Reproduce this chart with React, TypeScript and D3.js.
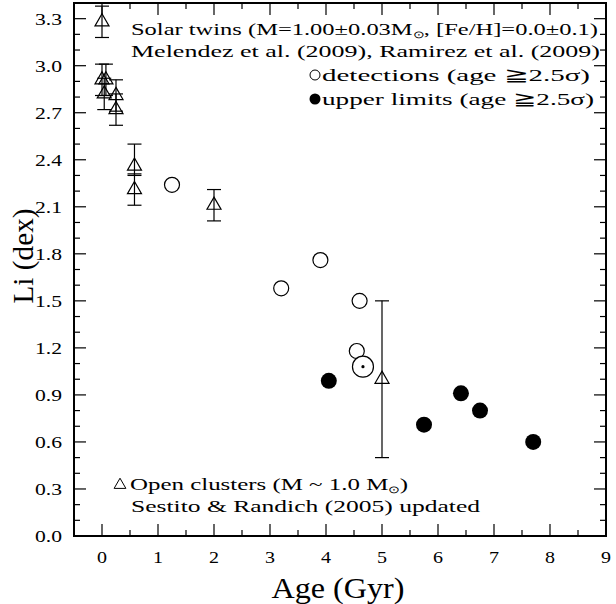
import React from "react";
import * as d3 from "d3";

// Open clusters: age (Gyr), Li, error-bar low, error-bar high
const clusterAge = [0.0, 0.0, 0.07, 0.04, 0.25, 0.25, 0.58, 0.58, 2.0, 5.0];
const clusterLi = [3.28, 2.91, 2.91, 2.82, 2.81, 2.72, 2.36, 2.21, 2.11, 1.0];
const clusterLo = [3.18, 2.81, 2.81, 2.72, 2.71, 2.62, 2.3, 2.11, 2.01, 0.5];
const clusterHi = [3.38, 3.01, 3.01, 2.92, 2.91, 2.82, 2.5, 2.31, 2.21, 1.5];

// Solar twins detections
const detAge = [1.25, 3.9, 3.2, 4.6, 4.55];
const detLi = [2.24, 1.76, 1.58, 1.5, 1.18];

// Solar twins upper limits
const ulAge = [4.05, 5.75, 6.41, 6.75, 7.7];
const ulLi = [0.99, 0.71, 0.91, 0.8, 0.6];

// The Sun
const sunAge = [4.66];
const sunLi = [1.08];

const xMajor = d3.range(0, 10);
const xMinor = d3.range(0.5, 9, 1);
const yMajorIdx = d3.range(0, 12);
const yMinorIdx = d3.range(1, 34).filter((i) => i % 3 !== 0);

const W = 616;
const H = 604;
const L = 74, R = 606, T = 3, B = 536;
const FONT = "'Liberation Serif', serif";

export default function App() {
  const x = d3.scaleLinear().domain([-0.5, 9]).range([L, R]);
  const y = d3.scaleLinear().domain([0, 3.4]).range([B, T]);
  const tri = d3.symbol().type(d3.symbolTriangle).size(85)();
  const triSmall = d3.symbol().type(d3.symbolTriangle).size(60)();
  const sw = 1.2;

  return (
    <svg width={W} height={H} style={{ position: "absolute", left: 0, top: 0, background: "#fff" }}>
      <rect x={0} y={0} width={W} height={H} fill="#fff" />
      {/* ticks */}
      <g stroke="#000" strokeWidth={1.2}>
        {xMajor.map((v) => (
          <g key={"xm" + v}>
            <line x1={x(v)} x2={x(v)} y1={B} y2={B - 12} />
            <line x1={x(v)} x2={x(v)} y1={T} y2={T + 12} />
          </g>
        ))}
        {xMinor.map((v) => (
          <g key={"xn" + v}>
            <line x1={x(v)} x2={x(v)} y1={B} y2={B - 6} />
            <line x1={x(v)} x2={x(v)} y1={T} y2={T + 6} />
          </g>
        ))}
        {yMajorIdx.map((i) => (
          <g key={"ym" + i}>
            <line x1={L} x2={L + 12} y1={y(i * 0.3)} y2={y(i * 0.3)} />
            <line x1={R} x2={R - 12} y1={y(i * 0.3)} y2={y(i * 0.3)} />
          </g>
        ))}
        {yMinorIdx.map((i) => (
          <g key={"yn" + i}>
            <line x1={L} x2={L + 6} y1={y(i * 0.1)} y2={y(i * 0.1)} />
            <line x1={R} x2={R - 6} y1={y(i * 0.1)} y2={y(i * 0.1)} />
          </g>
        ))}
      </g>
      {/* frame */}
      <rect x={L} y={T} width={R - L} height={B - T} fill="none" stroke="#000" strokeWidth={2} />
      {/* tick labels */}
      <g fontFamily={FONT} fontSize={17} fill="#000">
        {xMajor.map((v) => (
          <text key={"xl" + v} x={x(v)} y={563} textAnchor="middle" textLength={10} lengthAdjust="spacingAndGlyphs">{v}</text>
        ))}
        {yMajorIdx.map((i) => (
          <text key={"yl" + i} x={62} y={y(i * 0.3) + 6} textAnchor="end" textLength={27} lengthAdjust="spacingAndGlyphs">
            {(i * 0.3).toFixed(1)}
          </text>
        ))}
      </g>
      {/* axis titles */}
      <text x={338} y={598} textAnchor="middle" fontFamily={FONT} fontSize={29} textLength={133} lengthAdjust="spacingAndGlyphs">Age (Gyr)</text>
      <text transform="translate(33,256) rotate(-90)" textAnchor="middle" fontFamily={FONT} fontSize={29} textLength={95} lengthAdjust="spacingAndGlyphs">Li (dex)</text>

      {/* open clusters */}
      <g stroke="#000" strokeWidth={sw} fill="none">
        {clusterAge.map((a, i) => (
          <g key={"c" + i}>
            <line x1={x(a)} x2={x(a)} y1={y(clusterLo[i])} y2={y(clusterHi[i])} />
            <line x1={x(a) - 7} x2={x(a) + 7} y1={y(clusterLo[i])} y2={y(clusterLo[i])} />
            <line x1={x(a) - 7} x2={x(a) + 7} y1={y(clusterHi[i])} y2={y(clusterHi[i])} />
            <path d={tri} transform={`translate(${x(a)},${y(clusterLi[i])})`} fill="#fff" fillOpacity={0} />
          </g>
        ))}
      </g>
      {/* detections */}
      <g stroke="#000" strokeWidth={sw} fill="#fff">
        {detAge.map((a, i) => (
          <circle key={"d" + i} cx={x(a)} cy={y(detLi[i])} r={7.5} />
        ))}
      </g>
      {/* sun */}
      {sunAge.map((a, i) => (
        <g key={"s" + i}>
          <circle cx={x(a)} cy={y(sunLi[i])} r={10.5} fill="#fff" stroke="#000" strokeWidth={sw} />
          <circle cx={x(a)} cy={y(sunLi[i])} r={1.6} fill="#000" />
        </g>
      ))}
      {/* upper limits */}
      <g fill="#000">
        {ulAge.map((a, i) => (
          <circle key={"u" + i} cx={x(a)} cy={y(ulLi[i])} r={8} />
        ))}
      </g>

      {/* top legend */}
      <g fontFamily={FONT} fontSize={17.5} fill="#000">
        <text x={131} y={35} textLength={467} lengthAdjust="spacingAndGlyphs">
          Solar twins (M=1.00±0.03M<tspan fontSize={10} dy={3}>⊙</tspan><tspan dy={-3}>, [Fe/H]=0.0±0.1)</tspan>
        </text>
        <text x={131} y={56.5} textLength={469} lengthAdjust="spacingAndGlyphs">
          Melendez et al. (2009), Ramirez et al. (2009)
        </text>
        <circle cx={315} cy={75} r={5} fill="none" stroke="#000" strokeWidth={1} />
        <text x={322} y={81} textLength={268} lengthAdjust="spacingAndGlyphs">detections (age ≧2.5σ)</text>
        <circle cx={315} cy={99} r={5.5} fill="#000" />
        <text x={322} y={105} textLength={272} lengthAdjust="spacingAndGlyphs">upper limits (age ≧2.5σ)</text>
      </g>
      {/* bottom legend */}
      <g fontFamily={FONT} fontSize={17.5} fill="#000">
        <path d={triSmall} transform="translate(120,485)" fill="none" stroke="#000" strokeWidth={1} />
        <text x={130} y={490} textLength={278} lengthAdjust="spacingAndGlyphs">
          Open clusters (M ~ 1.0 M<tspan fontSize={10} dy={3}>⊙</tspan><tspan dy={-3}>)</tspan>
        </text>
        <text x={131} y={512} textLength={349} lengthAdjust="spacingAndGlyphs">Sestito &amp; Randich (2005) updated</text>
      </g>
    </svg>
  );
}
